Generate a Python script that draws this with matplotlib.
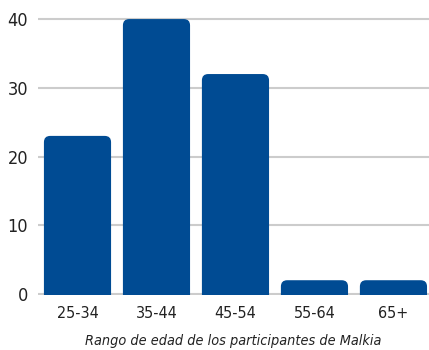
import matplotlib.pyplot as plt
from matplotlib.patches import FancyBboxPatch

rangos = ['25-34', '35-44', '45-54', '55-64', '65+']
participantes = [23, 40, 32, 2, 2]

azul = '#004b93'
gris = '#cccccc'

plt.rcParams['font.family'] = ['DejaVu Sans']
plt.rcParams['font.stretch'] = 'condensed'

fig = plt.figure(figsize=(4.29, 3.5), dpi=100)
ax = fig.add_axes([38 / 429, 55 / 350, 391 / 429, 278 / 350])

bars = ax.bar(range(len(rangos)), participantes, width=0.85, color=azul)

# rounded tops: swap each bar for a rounded box that starts below zero
x_unit = 391 / 4.95
y_unit = 278 / 40.3
for b in bars:
    b.set_visible(False)
    x, w, h = b.get_x(), b.get_width(), b.get_height()
    box = FancyBboxPatch((x, -2), w, h + 2,
                         boxstyle='round,pad=0,rounding_size=0.08',
                         mutation_aspect=x_unit / y_unit,
                         fc=azul, ec='none', zorder=3)
    ax.add_patch(box)

ax.set_xlim(-0.5, 4.45)
ax.set_ylim(-0.15, 40.3)
ax.set_yticks([0, 10, 20, 30, 40])
ax.yaxis.grid(True, color=gris, linewidth=1.5)
ax.set_axisbelow(True)
for s in ax.spines.values():
    s.set_visible(False)
ax.tick_params(axis='both', length=0)
ax.tick_params(axis='y', labelsize=13, pad=7, colors='#222222')
ax.set_xticks(range(len(rangos)), rangos)
ax.tick_params(axis='x', labelsize=11.5, pad=8, colors='#222222')
ax.set_xlabel('Rango de edad de los participantes de Malkia',
              fontsize=10.4, style='italic', color='#222222', labelpad=9)

fig.savefig('out.png', dpi=100)
